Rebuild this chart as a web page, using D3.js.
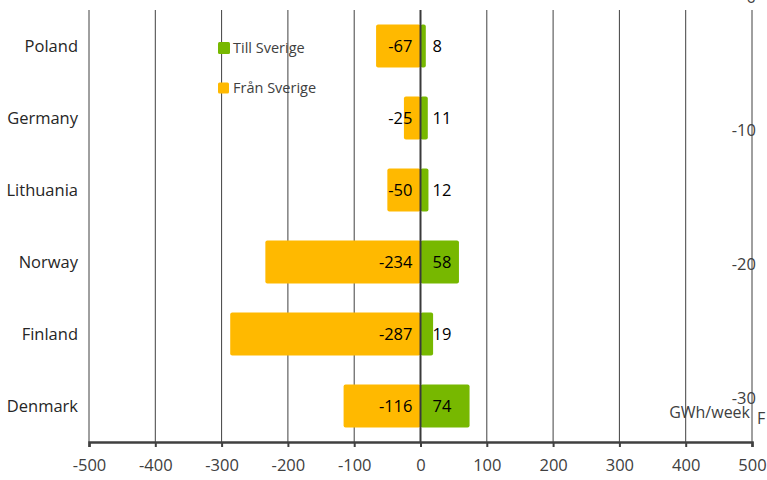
<!DOCTYPE html>
<html>
<head>
<meta charset="utf-8">
<script src="https://cdn.jsdelivr.net/npm/d3@7"></script>
<style>
  body { margin: 0; background: #fff; }
  svg { display: block; font-family: "Open Sans", sans-serif; }
</style>
</head>
<body>
<svg id="chart" width="767" height="480"></svg>
<script>
// data
var countries = ["Poland", "Germany", "Lithuania", "Norway", "Finland", "Denmark"];
var tillSverige = [8, 11, 12, 58, 19, 74];
var franSverige = [-67, -25, -50, -234, -287, -116];
var xTicks = [-500, -400, -300, -200, -100, 0, 100, 200, 300, 400, 500];
var rightTicks = [0, -10, -20, -30];

var svg = d3.select("#chart");
var plotLeft = 89, plotRight = 752, plotTop = 10, plotBottom = 442;

var x = d3.scaleLinear().domain([-500, 500]).range([plotLeft, plotRight]);
var y = d3.scaleBand().domain(countries).range([plotTop, plotBottom]).paddingInner(0.4).paddingOuter(0.2);
var y2 = d3.scaleLinear().domain([0, -30]).range([-3, 398]);

// gridlines
svg.append("g").selectAll("line")
  .data(xTicks.filter(function(d) { return d !== 0; }))
  .enter().append("line")
  .attr("x1", function(d) { return x(d); })
  .attr("x2", function(d) { return x(d); })
  .attr("y1", plotTop).attr("y2", plotBottom)
  .attr("stroke", "#404040").attr("stroke-width", 1);

// bars
var bars = svg.append("g");
bars.selectAll(".fran")
  .data(franSverige)
  .enter().append("rect")
  .attr("class", "fran")
  .attr("x", function(d) { return x(d); })
  .attr("y", function(d, i) { return y(countries[i]); })
  .attr("width", function(d) { return x(0) - x(d); })
  .attr("height", y.bandwidth())
  .attr("rx", 2)
  .attr("fill", "#ffb900");

bars.selectAll(".till")
  .data(tillSverige)
  .enter().append("rect")
  .attr("class", "till")
  .attr("x", x(0))
  .attr("y", function(d, i) { return y(countries[i]); })
  .attr("width", function(d) { return x(d) - x(0); })
  .attr("height", y.bandwidth())
  .attr("rx", 2)
  .attr("fill", "#77b800");

// zero line
svg.append("line")
  .attr("x1", x(0)).attr("x2", x(0))
  .attr("y1", plotTop).attr("y2", plotBottom)
  .attr("stroke", "#3a3a3a").attr("stroke-width", 2);

// value labels
svg.append("g").selectAll("text")
  .data(franSverige)
  .enter().append("text")
  .attr("x", x(0) - 8)
  .attr("y", function(d, i) { return y(countries[i]) + y.bandwidth() / 2; })
  .attr("dy", "0.35em")
  .attr("text-anchor", "end")
  .attr("font-size", 16.5)
  .attr("fill", "#000")
  .text(function(d) { return d; });

svg.append("g").selectAll("text")
  .data(tillSverige)
  .enter().append("text")
  .attr("x", x(0) + 12)
  .attr("y", function(d, i) { return y(countries[i]) + y.bandwidth() / 2; })
  .attr("dy", "0.35em")
  .attr("text-anchor", "start")
  .attr("font-size", 16.5)
  .attr("fill", "#000")
  .text(function(d) { return d; });

// category labels
svg.append("g").selectAll("text")
  .data(countries)
  .enter().append("text")
  .attr("x", 78)
  .attr("y", function(d) { return y(d) + y.bandwidth() / 2; })
  .attr("dy", "0.35em")
  .attr("text-anchor", "end")
  .attr("font-size", 16.5)
  .attr("fill", "#262626")
  .text(function(d) { return d; });

// x axis
var xAxis = svg.append("g")
  .attr("transform", "translate(0," + plotBottom + ")")
  .call(d3.axisBottom(x).tickValues(xTicks).tickSize(5).tickPadding(12)
    .tickFormat(function(d) { return String(d); }));
xAxis.select(".domain").attr("stroke", "#404040").attr("stroke-width", 2.5);
xAxis.selectAll(".tick line").attr("stroke", "#404040").attr("stroke-width", 2);
xAxis.selectAll(".tick text")
  .attr("font-family", "Open Sans, sans-serif")
  .attr("font-size", 16.5)
  .attr("fill", "#404040");

// odd right-hand axis labels
svg.append("g").selectAll("text")
  .data(rightTicks)
  .enter().append("text")
  .attr("x", plotRight + 4)
  .attr("y", function(d) { return y2(d); })
  .attr("dy", "0.35em")
  .attr("text-anchor", "end")
  .attr("font-size", 16.5)
  .attr("fill", "#404040")
  .text(function(d) { return String(d); });

svg.append("text")
  .attr("x", 750).attr("y", 418)
  .attr("text-anchor", "end")
  .attr("font-size", 16)
  .attr("fill", "#404040")
  .text("GWh/week");
svg.append("text")
  .attr("x", 757).attr("y", 424)
  .attr("font-size", 16)
  .attr("fill", "#404040")
  .text("F");

// legend
var legend = svg.append("g");
var legendItems = [
  { label: "Till Sverige", color: "#77b800", y: 48, size: 12 },
  { label: "Från Sverige", color: "#ffb900", y: 88, size: 11 }
];
legend.selectAll("rect")
  .data(legendItems)
  .enter().append("rect")
  .attr("x", 218)
  .attr("y", function(d) { return d.y - d.size / 2; })
  .attr("width", function(d) { return d.size; })
  .attr("height", function(d) { return d.size; })
  .attr("rx", 1.5)
  .attr("fill", function(d) { return d.color; });
legend.selectAll("text")
  .data(legendItems)
  .enter().append("text")
  .attr("x", 233)
  .attr("y", function(d) { return d.y; })
  .attr("dy", "0.35em")
  .attr("font-size", 14.5)
  .attr("fill", "#404040")
  .text(function(d) { return d.label; });
</script>
</body>
</html>
